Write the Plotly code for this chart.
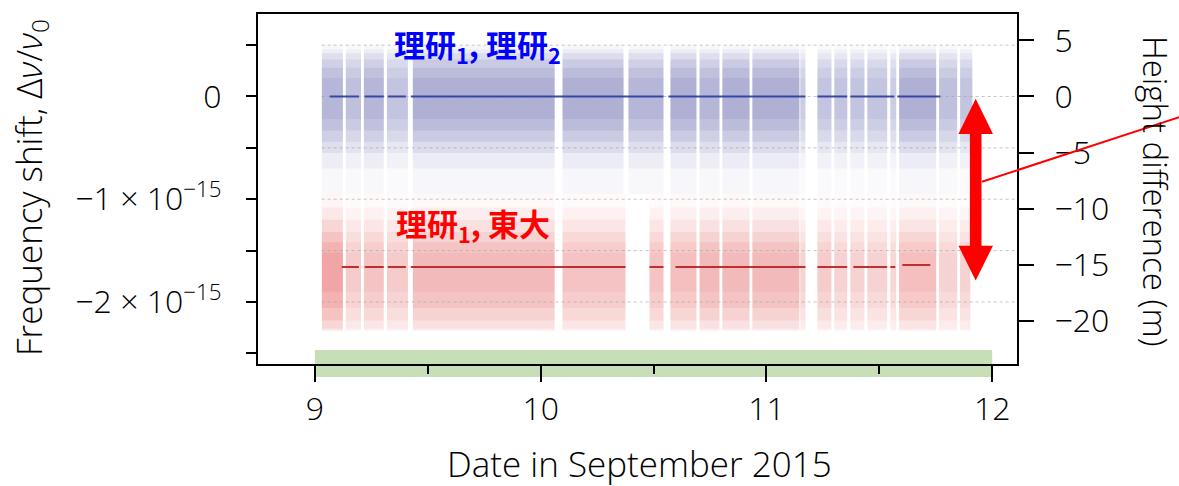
import plotly.graph_objects as go

# ---------------- data (frequency shift in units of 1e-15) ----------------
M_PER_UNIT = 9.158          # height difference (m) per 1e-15 fractional shift

x_range = [8.748, 12.11]
y_range = [-2.604, 0.803]

x_tickvals = [9, 10, 11, 12]
x_minor = [9.5, 10.5, 11.5]
y_tickvals = [0.5, 0, -0.5, -1, -1.5, -2, -2.5]
y_ticktext = ["", "0", "", "−1 × 10<sup>−15</sup>", "", "−2 × 10<sup>−15</sup>", ""]
h_tickvals = [5, 0, -5, -10, -15, -20]
h_ticktext = ["5", "0", "−5", "−10", "−15", "−20"]
grid_levels = [0.5, 0, -0.5, -1.0, -1.5, -2.0]

# measurement segments (start day, end day, relative density)
blue_seg_start = [9.031, 9.137, 9.217, 9.319, 9.434, 10.097, 10.389, 10.575, 10.704, 10.805,
                  10.938, 11.150, 11.226, 11.301, 11.372, 11.447, 11.549, 11.588, 11.765, 11.858]
blue_seg_end = [9.124, 9.204, 9.305, 9.412, 10.062, 10.367, 10.544, 10.690, 10.792, 10.925,
                11.146, 11.173, 11.288, 11.358, 11.434, 11.535, 11.575, 11.752, 11.845, 11.912]
blue_seg_density = [0.9, 0.8, 0.9, 0.7, 1.0, 1.0, 0.9, 1.0, 0.9, 1.0,
                    1.0, 0.6, 0.7, 0.7, 0.7, 0.7, 0.6, 1.0, 0.8, 0.7]

red_seg_start = [9.031, 9.137, 9.217, 9.319, 9.434, 10.097, 10.482, 10.575, 10.704, 10.805,
                 10.938, 11.150, 11.226, 11.301, 11.372, 11.447, 11.549, 11.588, 11.765, 11.858]
red_seg_end = [9.124, 9.204, 9.305, 9.412, 10.062, 10.376, 10.544, 10.690, 10.792, 10.925,
               11.146, 11.173, 11.288, 11.358, 11.434, 11.535, 11.575, 11.752, 11.845, 11.903]
red_seg_density = [1.15, 0.6, 0.7, 0.6, 0.85, 0.7, 0.7, 0.8, 0.85, 0.85,
                   0.85, 0.5, 0.6, 0.5, 0.5, 0.5, 0.45, 0.8, 0.5, 0.5]

# scatter-cloud envelopes, outer to core : (top, bottom)
blue_bands = [(0.50, -0.95), (0.46, -0.70), (0.42, -0.55), (0.36, -0.44), (0.28, -0.33), (0.18, -0.22)]
red_bands = [(-0.95, -2.28), (-1.08, -2.28), (-1.20, -2.26), (-1.32, -2.18), (-1.42, -2.06), (-1.52, -1.90)]
band_alpha = [0.04, 0.06, 0.085, 0.10, 0.10, 0.085]

# averaged ratio (solid line) segments
blue_mean_start = [9.066, 9.221, 9.323, 9.425, 10.566, 11.226, 11.372, 11.580]
blue_mean_end = [9.195, 9.305, 9.403, 10.544, 11.173, 11.358, 11.566, 11.770]
blue_mean_value = [0, 0, 0, 0, 0, 0, 0, 0]
red_mean_start = [9.119, 9.221, 9.323, 9.425, 10.482, 10.597, 11.226, 11.385, 11.549, 11.602]
red_mean_end = [9.195, 9.305, 9.403, 10.376, 10.544, 11.173, 11.358, 11.535, 11.571, 11.726]
red_mean_value = [-1.66, -1.66, -1.66, -1.66, -1.66, -1.66, -1.66, -1.66, -1.66, -1.64]

green_bar = [9, 12]                 # date span of the campaign bar

# red height arrow (day, top tip, head base, head base, bottom tip)
arrow_x = 11.927
arrow_y = [-0.022, -0.365, -1.452, -1.791]

# ---------------- figure ----------------
fig = go.Figure()

BLUE_RGB = (55, 60, 150)
RED_RGB = (225, 55, 55)


def add_cloud(starts, ends, dens, bands, rgb):
    for (top, bot), a in zip(bands, band_alpha):
        for s, e, d in zip(starts, ends, dens):
            al = min(a * d, 0.9)
            fig.add_trace(go.Scatter(
                x=[s, e, e, s, s], y=[bot, bot, top, top, bot],
                mode="lines", fill="toself", line=dict(width=0),
                fillcolor=f"rgba({rgb[0]},{rgb[1]},{rgb[2]},{al:.3f})",
                hoverinfo="skip", showlegend=False))


add_cloud(blue_seg_start, blue_seg_end, blue_seg_density, blue_bands, BLUE_RGB)
add_cloud(red_seg_start, red_seg_end, red_seg_density, red_bands, RED_RGB)

# dotted reference lines
for lv in grid_levels:
    fig.add_trace(go.Scatter(x=[9.03, x_range[1]], y=[lv, lv], mode="lines",
                             line=dict(color="rgba(160,160,160,0.6)", width=1, dash="dot"),
                             hoverinfo="skip", showlegend=False))


def seg_line(starts, ends, vals):
    xs, ys = [], []
    for s, e, v in zip(starts, ends, vals):
        xs += [s, e, None]
        ys += [v, v, None]
    return xs, ys


bx, by = seg_line(blue_mean_start, blue_mean_end, blue_mean_value)
fig.add_trace(go.Scatter(x=bx, y=by, mode="lines", line=dict(color="rgba(40,60,160,0.9)", width=2),
                         hoverinfo="skip", showlegend=False))
rx, ry = seg_line(red_mean_start, red_mean_end, red_mean_value)
fig.add_trace(go.Scatter(x=rx, y=ry, mode="lines", line=dict(color="rgba(185,30,30,0.9)", width=2),
                         hoverinfo="skip", showlegend=False))

# invisible trace for the right axis
fig.add_trace(go.Scatter(x=[x_range[0]], y=[0], yaxis="y2", mode="markers",
                         marker=dict(opacity=0), hoverinfo="skip", showlegend=False))

# ---------------- geometry helpers ----------------
L, R, T, B = 258, 162, 12, 122
W, H = 1179, 486
PW, PH = W - L - R, H - T - B


def px2paper_x(px):
    return (px - L) / PW


def py2paper_y(py):
    return (H - B - py) / PH


def day2paper(d):
    return (d - x_range[0]) / (x_range[1] - x_range[0])


shapes = []
# green campaign bar
shapes.append(dict(type="rect", xref="paper", yref="paper",
                   x0=day2paper(green_bar[0]), x1=day2paper(green_bar[1]),
                   y0=py2paper_y(377), y1=py2paper_y(350),
                   fillcolor="#c6dfb6", line=dict(width=0), layer="below"))

# double-headed arrow
hw_head, hw_shaft = 0.0765, 0.0257
t_tip, t_base, b_base, b_tip = arrow_y
path = (f"M {arrow_x},{t_tip} L {arrow_x + hw_head},{t_base} L {arrow_x + hw_shaft},{t_base} "
        f"L {arrow_x + hw_shaft},{b_base} L {arrow_x + hw_head},{b_base} L {arrow_x},{b_tip} "
        f"L {arrow_x - hw_head},{b_base} L {arrow_x - hw_shaft},{b_base} L {arrow_x - hw_shaft},{t_base} "
        f"L {arrow_x - hw_head},{t_base} Z")
shapes.append(dict(type="path", xref="x", yref="y", path=path, fillcolor="#ff0000",
                   line=dict(width=0), layer="above"))
# thin pointer line
shapes.append(dict(type="line", xref="paper", yref="paper",
                   x0=px2paper_x(982), y0=py2paper_y(180.7),
                   x1=px2paper_x(1180), y1=py2paper_y(115.5),
                   line=dict(color="#ff0000", width=2), layer="above"))

FONT = "Open Sans, Noto Sans, DejaVu Sans, sans-serif"
CJK = "Noto Sans CJK JP, Noto Sans CJK SC, sans-serif"
TXT = "#000000"
FS = 32
FT = 35

annotations = [
    dict(text="Frequency shift, Δ<i>ν</i>/<i>ν</i><sub>0</sub>", xref="paper", yref="paper",
         x=px2paper_x(30), y=py2paper_y(187), textangle=-90, showarrow=False,
         xanchor="center", yanchor="middle", font=dict(family=FONT, size=FT, color=TXT, weight=300)),
    dict(text="Height difference (m)", xref="paper", yref="paper",
         x=px2paper_x(1155), y=py2paper_y(190), textangle=90, showarrow=False,
         xanchor="center", yanchor="middle", font=dict(family=FONT, size=33, color=TXT, weight=300)),
    dict(text="Date in September 2015", xref="paper", yref="paper",
         x=px2paper_x(639), y=py2paper_y(464), showarrow=False,
         xanchor="center", yanchor="middle", font=dict(family=FONT, size=FT, color=TXT, weight=300)),
    dict(text="<b>理研<sub>1</sub>, 理研<sub>2</sub></b>", xref="x", yref="y",
         x=9.72, y=0.50, showarrow=False, xanchor="center", yanchor="middle",
         font=dict(family=CJK, size=31, color="#0000ff")),
    dict(text="<b>理研<sub>1</sub>, 東大</b>", xref="x", yref="y",
         x=9.70, y=-1.25, showarrow=False, xanchor="center", yanchor="middle",
         font=dict(family=CJK, size=31, color="#ff0000")),
]

tickfont = dict(family=FONT, size=FS, color=TXT, weight=300)

fig.update_layout(
    width=W, height=H,
    margin=dict(l=L, r=R, t=T, b=B, pad=0),
    paper_bgcolor="white", plot_bgcolor="white",
    showlegend=False,
    shapes=shapes, annotations=annotations,
    xaxis=dict(range=x_range, tickvals=x_tickvals, ticktext=[str(v) for v in x_tickvals],
               ticks="outside", ticklen=16, tickwidth=2, tickcolor="black",
               showline=True, linecolor="black", linewidth=2, mirror=True,
               showgrid=False, zeroline=False, ticklabelstandoff=0,
               tickfont=tickfont,
               minor=dict(tickvals=x_minor, ticks="outside", ticklen=8, tickwidth=2,
                          tickcolor="black", showgrid=False)),
    yaxis=dict(range=y_range, tickvals=y_tickvals, ticktext=y_ticktext,
               ticks="outside", ticklen=10, tickwidth=2, tickcolor="black",
               showline=True, linecolor="black", linewidth=2,
               showgrid=False, zeroline=False, ticklabelstandoff=18,
               tickfont=tickfont),
    yaxis2=dict(range=[y_range[0] * M_PER_UNIT, y_range[1] * M_PER_UNIT],
                overlaying="y", side="right", tickvals=h_tickvals, ticktext=h_ticktext,
                ticks="outside", ticklen=15, tickwidth=2, tickcolor="black",
                showline=True, linecolor="black", linewidth=2,
                showgrid=False, zeroline=False, ticklabelstandoff=14,
                tickfont=tickfont),
)

fig.write_html("out.html")
